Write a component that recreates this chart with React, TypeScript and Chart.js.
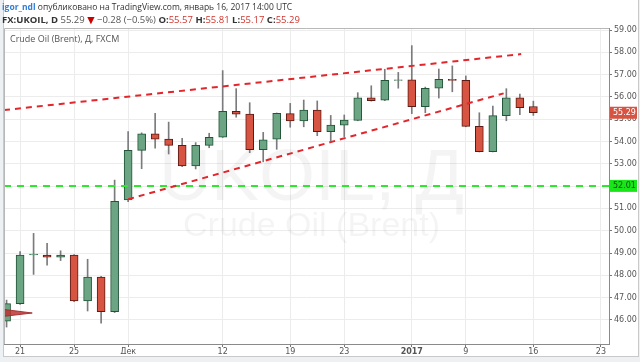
import React, { useEffect, useRef } from "react";
import { Chart, registerables } from "chart.js";

Chart.register(...registerables);

// trading days, index 0 = Nov 18 2016
const days = [
  "18.11", "21.11", "22.11", "23.11", "24.11", "25.11", "28.11", "29.11", "30.11",
  "01.12", "02.12", "05.12", "06.12", "07.12", "08.12", "09.12", "12.12", "13.12",
  "14.12", "15.12", "16.12", "19.12", "20.12", "21.12", "22.12", "23.12", "27.12",
  "28.12", "29.12", "30.12", "03.01", "04.01", "05.01", "06.01", "09.01", "10.01",
  "11.01", "12.01", "13.01", "16.01",
];
const openV = [
  45.94, 46.73, 48.91, 48.91, 48.81, 48.91, 46.85, 47.92, 46.37, 51.38, 53.6, 54.35,
  54.11, 53.83, 52.9, 53.83, 54.2, 55.35, 55.23, 53.63, 54.1, 55.25, 54.92, 55.41,
  54.44, 54.73, 54.95, 55.96, 55.85, 56.74, 56.77, 55.56, 56.39, 56.79, 56.74, 54.68,
  53.55, 55.16, 55.96, 55.57,
];
const highV = [
  46.89, 49.06, 49.88, 49.43, 49.1, 48.93, 48.72, 47.95, 52.27, 54.44, 54.39, 55.26,
  54.87, 54.14, 53.95, 54.37, 57.18, 56.37, 55.74, 54.41, 55.28, 55.71, 55.86, 55.82,
  55.17, 55.19, 56.19, 56.5, 57.24, 57.1, 58.3, 56.44, 57.25, 57.39, 56.94, 55.29,
  55.59, 56.37, 56.13, 55.81,
];
const lowV = [
  45.68, 46.7, 48.04, 48.46, 48.66, 46.82, 46.4, 45.85, 46.33, 51.3, 52.78, 53.7,
  53.44, 52.87, 52.77, 53.72, 54.18, 55.09, 53.5, 53.09, 53.65, 54.64, 54.66, 54.26,
  54.02, 54.22, 54.93, 55.81, 55.83, 56.39, 55.25, 55.29, 55.95, 56.23, 54.66, 53.53,
  53.53, 54.93, 55.2, 55.17,
];
const closeV = [
  46.73, 48.91, 48.91, 48.81, 48.91, 46.85, 47.92, 46.37, 51.32, 53.6, 54.34, 54.1,
  53.83, 52.9, 53.83, 54.19, 55.35, 55.23, 53.63, 54.08, 55.26, 54.92, 55.41, 54.44,
  54.74, 54.96, 55.96, 55.83, 56.74, 56.77, 55.56, 56.39, 56.79, 56.74, 54.68, 53.55,
  55.16, 55.96, 55.52, 55.29,
];

// axis ticks
const xTickIdx = [1, 5, 9, 16, 21, 25, 30, 34, 39, 44];
const xTickLabels = ["21", "25", "Дек", "12", "19", "23", "2017", "9", "16", "23"];
const yTicks = [46, 47, 48, 49, 50, 51, 52, 53, 54, 55, 56, 57, 58, 59];

// drawings
const upperTrendX = [-0.19, 38.1];
const upperTrendY = [55.41, 57.92];
const lowerTrendX = [9, 36.8];
const lowerTrendY = [51.41, 56.16];
const supportLevel = 52.01;
const lastPrice = 55.29;
const markerX = [-0.19, 1.9];
const markerTopY = [46.47, 46.31];
const markerBotY = [46.16, 46.31];

const X_MIN = -0.19;
const X_MAX = 44.6;
const Y_MIN = 44.92;
const Y_MAX = 59.09;

const UP = "#6ba583";
const UP_B = "#225437";
const DN = "#d75442";
const DN_B = "#5b1a13";

export default function App() {
  const ref = useRef<HTMLCanvasElement | null>(null);

  useEffect(() => {
    document.body.style.margin = "0";
    const canvas = ref.current!;
    const isUp = (i: number) => closeV[i] >= openV[i];

    const wicks = days.map((_, i) => ({ x: i, y: [lowV[i], highV[i]] }));
    const bodies = days.map((_, i) => ({
      x: i,
      y: [openV[i], Math.abs(closeV[i] - openV[i]) < 0.03 ? openV[i] + 0.04 : closeV[i]],
    }));

    const overlay = {
      id: "overlay",
      beforeDatasetsDraw(chart: any) {
        const { ctx, chartArea: a } = chart;
        ctx.save();
        ctx.fillStyle = "rgba(0,0,0,0.045)";
        ctx.textAlign = "center";
        ctx.textBaseline = "alphabetic";
        const cx = (a.left + a.right) / 2 + 5;
        ctx.font = "72px 'Liberation Sans', Arial, sans-serif";
        ctx.fillText("UKOIL, Д", cx, 200);
        ctx.font = "34px 'Liberation Sans', Arial, sans-serif";
        ctx.fillText("Crude Oil (Brent)", cx, 236);
        ctx.restore();
      },
      afterDraw(chart: any) {
        const { ctx, chartArea: a, scales } = chart;
        ctx.save();
        ctx.strokeStyle = "#b8b8b8";
        ctx.lineWidth = 1;
        ctx.beginPath();
        ctx.moveTo(a.left + 0.5, a.bottom);
        ctx.lineTo(a.left + 0.5, a.top + 0.5);
        ctx.lineTo(a.right, a.top + 0.5);
        ctx.stroke();
        const y = scales.y;
        const box = (v: number, bg: string, fg: string) => {
          const py = y.getPixelForValue(v);
          ctx.fillStyle = bg;
          ctx.fillRect(a.right + 1, py - 6, 27, 12);
          ctx.fillStyle = fg;
          ctx.font = "8px 'DejaVu Sans', sans-serif";
          ctx.textAlign = "left";
          ctx.textBaseline = "middle";
          ctx.fillText(v.toFixed(2), a.right + 4, py + 0.5);
        };
        box(lastPrice, DN, "#ffffff");
        box(supportLevel, "#19e619", "#1e3a1e");
        ctx.restore();
      },
    };

    const chart = new Chart(canvas, {
      type: "bar",
      data: {
        datasets: [
          {
            type: "line",
            data: upperTrendX.map((x, i) => ({ x, y: upperTrendY[i] })),
            borderColor: "#e3262b",
            borderWidth: 2,
            borderDash: [6, 5],
            pointRadius: 0,
            order: 1,
          } as any,
          {
            type: "line",
            data: lowerTrendX.map((x, i) => ({ x, y: lowerTrendY[i] })),
            borderColor: "#e3262b",
            borderWidth: 2,
            borderDash: [6, 5],
            pointRadius: 0,
            order: 1,
          },
          {
            type: "line",
            data: [
              { x: X_MIN, y: supportLevel },
              { x: X_MAX, y: supportLevel },
            ],
            borderColor: "#2ee82e",
            borderWidth: 2,
            borderDash: [7, 6],
            pointRadius: 0,
            order: 1,
          },
          {
            type: "line",
            data: markerX.map((x, i) => ({ x, y: markerTopY[i] })),
            borderColor: "rgba(160,40,40,0.9)",
            borderWidth: 1,
            pointRadius: 0,
            fill: false,
            order: 1,
          },
          {
            type: "line",
            data: markerX.map((x, i) => ({ x, y: markerBotY[i] })),
            borderColor: "rgba(160,40,40,0.9)",
            backgroundColor: "rgba(190,50,50,0.85)",
            borderWidth: 1,
            pointRadius: 0,
            fill: "-1",
            order: 1,
          },
          {
            type: "bar",
            data: bodies as any,
            backgroundColor: days.map((_, i) => (isUp(i) ? UP : DN)),
            borderColor: days.map((_, i) => (isUp(i) ? UP_B : DN_B)),
            borderWidth: 1,
            borderSkipped: false,
            barThickness: 8,
            grouped: false,
            order: 2,
          } as any,
          {
            type: "bar",
            data: wicks as any,
            backgroundColor: "#7b7b7d",
            borderWidth: 0,
            barThickness: 1,
            grouped: false,
            order: 3,
          } as any,
        ],
      },
      options: {
        animation: false,
        responsive: false,
        maintainAspectRatio: false,
        layout: { padding: { left: 4, top: 28, right: 3, bottom: 8 } },
        plugins: {
          legend: { display: false },
          tooltip: { enabled: false },
          filler: { propagate: false },
        },
        scales: {
          x: {
            type: "linear",
            offset: false,
            min: X_MIN,
            max: X_MAX,
            afterBuildTicks: (s: any) => {
              s.ticks = xTickIdx.map((v) => ({ value: v }));
            },
            afterFit: (s: any) => {
              s.height = 10;
            },
            ticks: {
              autoSkip: false,
              maxRotation: 0,
              padding: 0,
              color: "#555",
              font: (c: any) => ({
                size: 8,
                family: "'DejaVu Sans', sans-serif",
                weight: c.tick && c.tick.value === 30 ? "bold" : "normal",
              }),
              callback: (v: any) => {
                const k = xTickIdx.indexOf(Number(v));
                return k >= 0 ? xTickLabels[k] : "";
              },
            },
            grid: { color: "#ececec", tickLength: 3, tickColor: "#777", offset: false },
            border: { color: "#8a8a8a" },
          },
          y: {
            position: "right",
            min: Y_MIN,
            max: Y_MAX,
            afterBuildTicks: (s: any) => {
              s.ticks = yTicks.map((v) => ({ value: v }));
            },
            afterFit: (s: any) => {
              s.width = 28;
            },
            ticks: {
              padding: 2,
              color: "#555",
              font: { size: 8, family: "'DejaVu Sans', sans-serif" },
              callback: (v: any) => Number(v).toFixed(2),
            },
            grid: { color: "#ececec", tickLength: 3, tickColor: "#777" },
            border: { color: "#8a8a8a" },
          },
        },
      },
      plugins: [overlay],
    } as any);
    return () => chart.destroy();
  }, []);

  const red = "#d0342c";
  return (
    <div
      style={{
        position: "relative",
        width: 640,
        height: 362,
        background: "#eef1f4",
        overflow: "hidden",
        fontFamily: "'Open Sans', 'DejaVu Sans', sans-serif",
      }}
    >
      <div
        style={{
          position: "absolute",
          left: 3,
          top: 0,
          width: 634,
          height: 356,
          background: "#ffffff",
          border: "1px solid #c9c9c9",
          borderTop: "none",
        }}
      />
      <canvas ref={ref} width={640} height={362} style={{ position: "absolute", left: 0, top: 0 }} />
      <div style={{ position: "absolute", left: 2, top: 1, fontSize: 8.5, color: "#333", whiteSpace: "nowrap" }}>
        <span style={{ color: "#2f7ed8", fontWeight: "bold" }}>igor_ndl</span> опубликовано на TradingView.com, январь 16,
        2017 14:00 UTC
      </div>
      <div style={{ position: "absolute", left: 2, top: 13, fontSize: 9.5, color: "#333", whiteSpace: "nowrap" }}>
        <b>FX:UKOIL, D</b> <span style={{ color: "#555" }}>55.29</span>{" "}
        <span style={{ color: "#c00" }}>▼</span> <span style={{ color: "#555" }}>−0.28 (−0.5%)</span>{" "}
        <b>O:</b>
        <span style={{ color: red }}>55.57</span> <b>H:</b>
        <span style={{ color: red }}>55.81</span> <b>L:</b>
        <span style={{ color: red }}>55.17</span> <b>C:</b>
        <span style={{ color: red }}>55.29</span>
      </div>
      <div style={{ position: "absolute", left: 10, top: 32, fontSize: 9, color: "#555", whiteSpace: "nowrap" }}>
        Crude Oil (Brent), Д, FXCM
      </div>
    </div>
  );
}
